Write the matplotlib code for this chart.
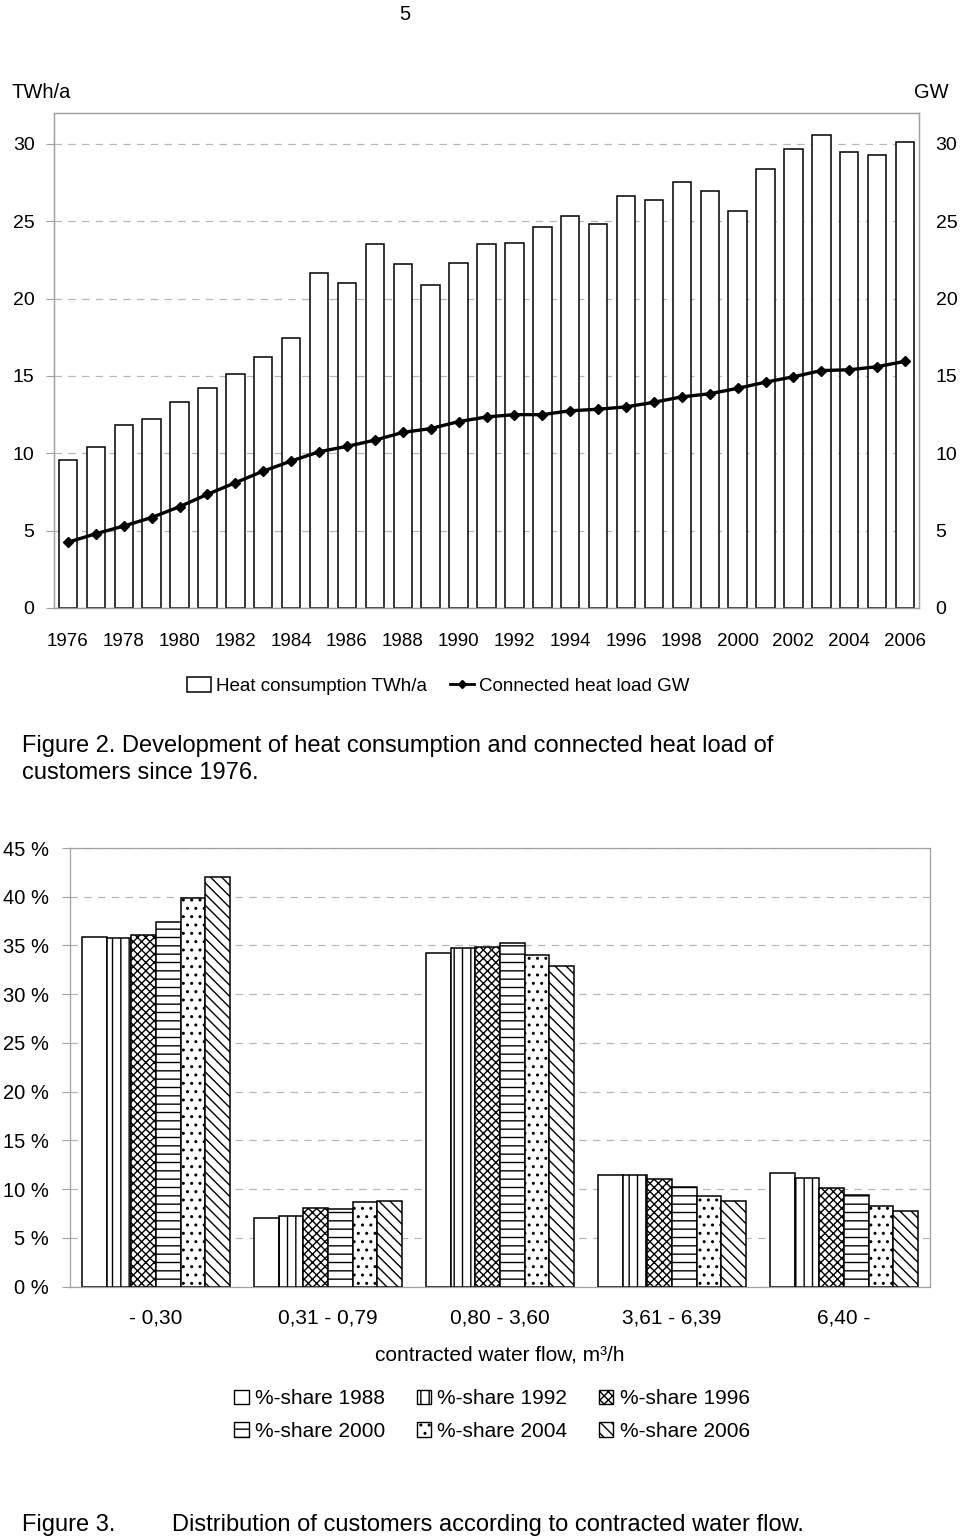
import numpy as np
import matplotlib.pyplot as plt
from matplotlib.lines import Line2D
from matplotlib.patches import Patch

plt.rcParams['font.family'] = ['Liberation Sans', 'DejaVu Sans']
plt.rcParams['hatch.linewidth'] = 1.0

# Figure 2 data
years = list(range(1976, 2007))
heat_twh = [9.6, 10.4, 11.85, 12.2, 13.3, 14.25, 15.15, 16.2, 17.45, 21.65,
            21.0, 23.55, 22.25, 20.85, 22.3, 23.5, 23.6, 24.65, 25.35, 24.85,
            26.65, 26.35, 27.55, 26.95, 25.65, 28.4, 29.65, 30.6, 29.5, 29.3, 30.15]
load_gw = [4.25, 4.8, 5.3, 5.85, 6.55, 7.35, 8.1, 8.85, 9.5, 10.1,
           10.45, 10.85, 11.35, 11.6, 12.05, 12.35, 12.5, 12.5, 12.75, 12.85,
           13.0, 13.3, 13.65, 13.85, 14.2, 14.6, 14.95, 15.35, 15.4, 15.6, 15.95]

# Figure 3 data
flow_classes = ['- 0,30', '0,31 - 0,79', '0,80 - 3,60', '3,61 - 6,39', '6,40 -']
share_1988 = [35.85, 7.0, 34.2, 11.5, 11.65]
share_1992 = [35.75, 7.25, 34.7, 11.45, 11.1]
share_1996 = [36.05, 8.1, 34.85, 11.05, 10.1]
share_2000 = [37.4, 7.95, 35.25, 10.2, 9.4]
share_2004 = [39.9, 8.7, 34.05, 9.35, 8.25]
share_2006 = [42.0, 8.75, 32.9, 8.8, 7.8]
share_years = ['1988', '1992', '1996', '2000', '2004', '2006']
hatches = ['', '||', 'xxxx', '--', '..', '\\\\\\']

grey = '#a0a0a0'
fig = plt.figure(figsize=(9.6, 15.4), dpi=100)

fig.text(405 / 960, 1 - 14 / 1540, '5', fontsize=14.5, ha='center', va='center')

# ---- Figure 2 ----
ax = fig.add_axes([54 / 960, 1 - 608 / 1540, 865 / 960, 495 / 1540])
x = np.arange(len(years))
ax.bar(x, heat_twh, width=0.66, color='white', edgecolor='black', linewidth=1.1, zorder=2)
ax.set_xlim(-0.5, len(years) - 0.5)
ax.set_ylim(0, 32)
ax.set_yticks([0, 5, 10, 15, 20, 25, 30])
ax.set_xticks(x[::2])
ax.set_xticklabels([str(y) for y in years[::2]], fontsize=13.5)
ax.tick_params(axis='x', length=0, pad=18)
ax.tick_params(axis='y', length=6, color=grey, labelsize=14, pad=8)
ax.yaxis.grid(True, color='#b8b8b8', linestyle=(0, (6, 5)), linewidth=0.9, zorder=0)
ax.set_axisbelow(True)
for s in ax.spines.values():
    s.set_color(grey)
    s.set_linewidth(0.9)

ax2 = ax.twinx()
ax2.plot(x, load_gw, color='black', linewidth=2.4, marker='D', markersize=5, zorder=3)
ax2.set_ylim(0, 32)
ax2.set_yticks([0, 5, 10, 15, 20, 25, 30])
ax2.tick_params(axis='y', length=0, labelsize=14, pad=12)
for s in ax2.spines.values():
    s.set_color(grey)
    s.set_linewidth(0.9)

fig.text(11 / 960, 1 - 92 / 1540, 'TWh/a', fontsize=14.5, ha='left', va='center')
fig.text(914 / 960, 1 - 92 / 1540, 'GW', fontsize=14.5, ha='left', va='center')

h1 = Patch(facecolor='white', edgecolor='black', linewidth=1.1)
h2 = Line2D([], [], color='black', linewidth=2.0, marker='D', markersize=4)
fig.legend([h1, h2], ['Heat consumption TWh/a', 'Connected heat load GW'],
           loc='center', bbox_to_anchor=(438 / 960, 1 - 686 / 1540), ncol=2,
           frameon=False, fontsize=13.5, handlelength=1.3, handleheight=0.8,
           handletextpad=0.25, columnspacing=1.2)

fig.text(22 / 960, 1 - 746 / 1540,
         'Figure 2. Development of heat consumption and connected heat load of',
         fontsize=17, ha='left', va='center')
fig.text(22 / 960, 1 - 773 / 1540, 'customers since 1976.',
         fontsize=17, ha='left', va='center')

# ---- Figure 3 ----
bx = fig.add_axes([70 / 960, 1 - 1286.7 / 1540, 860 / 960, 438.7 / 1540])
shares = [share_1988, share_1992, share_1996, share_2000, share_2004, share_2006]
bw = 0.1425
cx = np.arange(len(flow_classes))
handles = []
for i, (vals, h, yr) in enumerate(zip(shares, hatches, share_years)):
    off = (i - 2.5) * bw
    bx.bar(cx + off, vals, width=bw, color='white', edgecolor='black',
           hatch=h, linewidth=1.1, zorder=2)
    handles.append(Patch(facecolor='white', edgecolor='black', hatch=h,
                         linewidth=1.0, label='%-share ' + yr))
bx.set_xlim(-0.5, len(flow_classes) - 0.5)
bx.set_ylim(0, 45)
bx.set_yticks(range(0, 50, 5))
bx.set_yticklabels([f'{v} %' for v in range(0, 50, 5)])
bx.set_xticks(cx)
bx.set_xticklabels(flow_classes, fontsize=15)
bx.tick_params(axis='x', length=0, pad=16)
bx.tick_params(axis='y', length=6, color=grey, labelsize=14.5, pad=9)
bx.yaxis.grid(True, color='#b8b8b8', linestyle=(0, (6, 5)), linewidth=0.9, zorder=0)
bx.set_axisbelow(True)
for s in bx.spines.values():
    s.set_color(grey)
    s.set_linewidth(0.9)

fig.text(500 / 960, 1 - 1355 / 1540, 'contracted water flow, m³/h',
         fontsize=15, ha='center', va='center')

order = [0, 3, 1, 4, 2, 5]
fig.legend([handles[i] for i in order], [handles[i].get_label() for i in order],
           loc='center', bbox_to_anchor=(492 / 960, 1 - 1415 / 1540), ncol=3,
           frameon=False, fontsize=15, handlelength=0.7, handleheight=0.7,
           handletextpad=0.3, columnspacing=1.5, labelspacing=0.65)

fig.text(22 / 960, 1 - 1525 / 1540, 'Figure 3.', fontsize=17, ha='left', va='center')
fig.text(172 / 960, 1 - 1525 / 1540,
         'Distribution of customers according to contracted water flow.',
         fontsize=17, ha='left', va='center')

fig.savefig('out.png', dpi=100)
